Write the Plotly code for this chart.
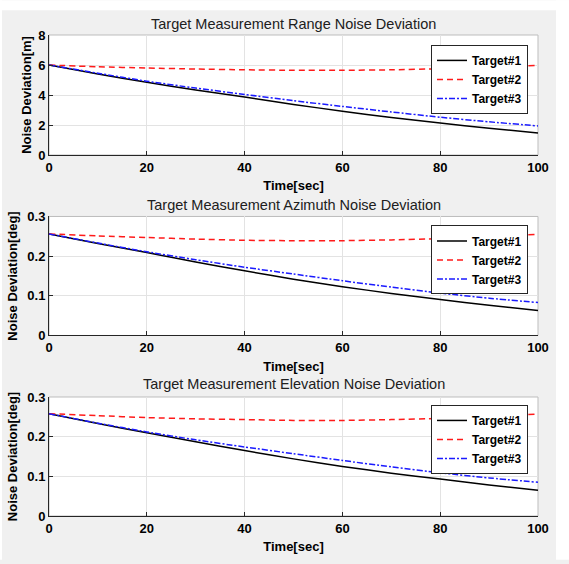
import plotly.graph_objects as go

# ---------------- data ----------------
time_sec = [0, 10, 20, 30, 40, 50, 60, 70, 80, 90, 100]

range_t1 = [6.0, 5.40, 4.85, 4.33, 3.86, 3.37, 2.92, 2.50, 2.13, 1.78, 1.47]
range_t2 = [6.0, 5.88, 5.80, 5.73, 5.68, 5.65, 5.65, 5.68, 5.75, 5.85, 5.98]
range_t3 = [6.0, 5.45, 4.92, 4.46, 4.04, 3.62, 3.24, 2.87, 2.52, 2.21, 1.94]

azim_t1 = [0.256, 0.232, 0.209, 0.185, 0.163, 0.142, 0.123, 0.106, 0.091, 0.076, 0.063]
azim_t2 = [0.256, 0.251, 0.247, 0.243, 0.240, 0.239, 0.239, 0.241, 0.244, 0.249, 0.255]
azim_t3 = [0.256, 0.233, 0.211, 0.191, 0.172, 0.155, 0.138, 0.122, 0.107, 0.094, 0.083]

elev_t1 = [0.258, 0.233, 0.210, 0.187, 0.165, 0.144, 0.125, 0.108, 0.093, 0.078, 0.065]
elev_t2 = [0.258, 0.253, 0.248, 0.245, 0.243, 0.241, 0.241, 0.243, 0.246, 0.251, 0.257]
elev_t3 = [0.258, 0.234, 0.212, 0.192, 0.174, 0.157, 0.140, 0.124, 0.109, 0.096, 0.085]

series_names = ["Target#1", "Target#2", "Target#3"]
panel_titles = ["Target Measurement Range Noise Deviation",
                "Target Measurement Azimuth Noise Deviation",
                "Target Measurement Elevation Noise Deviation"]
y_titles = ["Noise Deviation[m]", "Noise Deviation[deg]", "Noise Deviation[deg]"]
x_title = "Time[sec]"
x_ticks = [0, 20, 40, 60, 80, 100]
y_ticks = [[0, 2, 4, 6, 8], [0, 0.1, 0.2, 0.3], [0, 0.1, 0.2, 0.3]]
y_tick_text = [["0", "2", "4", "6", "8"], ["0", "0.1", "0.2", "0.3"], ["0", "0.1", "0.2", "0.3"]]
y_ranges = [[0, 8], [0, 0.3], [0, 0.3]]

panels = [(range_t1, range_t2, range_t3),
          (azim_t1, azim_t2, azim_t3),
          (elev_t1, elev_t2, elev_t3)]

# ---------------- styling ----------------
W, H = 569, 564
ML, MR, MT, MB = 49, 31, 35, 44
FONT = "Liberation Sans, Arial, sans-serif"
line_styles = [dict(color="black", width=1.5, dash="solid"),
               dict(color="#ff1a1a", width=1.5, dash="6px,4px"),
               dict(color="#1a1aff", width=1.5, dash="6px,2px,2px,2px")]

y_domains = [[0.7505, 1.0], [0.3753, 0.6227], [0.0, 0.2474]]
title_y = [1.0227, 0.6474, 0.2742]
legend_y = [0.9794, 0.604, 0.2309]
y_standoff = [3, 6, 6]

fig = go.Figure()
legend_ids = ["legend", "legend2", "legend3"]

for p in range(3):
    xa = "x" if p == 0 else f"x{p+1}"
    ya = "y" if p == 0 else f"y{p+1}"
    for s in range(3):
        fig.add_trace(go.Scatter(
            x=time_sec, y=panels[p][s], mode="lines", name=series_names[s],
            line=dict(shape="spline", smoothing=0.6, **line_styles[s]),
            xaxis=xa, yaxis=ya, legend=legend_ids[p], showlegend=True))

tick_font = dict(family=FONT, size=13, color="black", weight="bold")
axis_title_font = dict(family=FONT, size=13, color="black", weight="bold")

layout = dict(
    width=W, height=H,
    margin=dict(l=ML, r=MR, t=MT, b=MB),
    paper_bgcolor="#f0f0f0", plot_bgcolor="white",
    showlegend=True,
    shapes=[],
    annotations=[],
)

for p in range(3):
    xk = "xaxis" if p == 0 else f"xaxis{p+1}"
    yk = "yaxis" if p == 0 else f"yaxis{p+1}"
    ya = "y" if p == 0 else f"y{p+1}"
    xa = "x" if p == 0 else f"x{p+1}"
    layout[xk] = dict(
        domain=[0, 1], anchor=ya, range=[0, 100], tickvals=x_ticks,
        ticks="inside", ticklen=4, tickcolor="#262626", showline=True,
        linecolor="#262626", linewidth=1, showgrid=True, gridcolor="#e3e3e3",
        gridwidth=1, zeroline=False, tickfont=tick_font,
        title=dict(text=x_title, font=axis_title_font, standoff=7),
    )
    layout[yk] = dict(
        domain=y_domains[p], anchor=xa, range=y_ranges[p], tickvals=y_ticks[p],
        ticktext=y_tick_text[p], ticks="inside", ticklen=4, tickcolor="#262626",
        showline=True, linecolor="#262626", linewidth=1, showgrid=True,
        gridcolor="#e3e3e3", gridwidth=1, zeroline=False, tickfont=tick_font,
        title=dict(text=y_titles[p], font=axis_title_font, standoff=y_standoff[p]),
    )
    # light box on top / right
    layout["shapes"].append(dict(
        type="rect", xref=f"{xa} domain", yref=f"{ya} domain",
        x0=0, x1=1, y0=0, y1=1, line=dict(color="#bdbdbd", width=1),
        layer="below"))
    layout["annotations"].append(dict(
        text=panel_titles[p], xref="paper", yref="paper", x=0.5, y=title_y[p],
        xanchor="center", yanchor="middle", showarrow=False,
        font=dict(family=FONT, size=14.5, color="#202020")))
    lk = legend_ids[p]
    layout[lk] = dict(
        x=(528 - ML) / (W - ML - MR), xanchor="right", y=legend_y[p], yanchor="top",
        bgcolor="white", bordercolor="#262626", borderwidth=1,
        font=dict(family=FONT, size=12, color="black", weight="bold"),
        tracegroupgap=0, itemwidth=30)

# white strips at the figure edges (outside the grey panel)
pw = W - ML - MR
ph = H - MT - MB
def px_x(v):
    return (v - ML) / pw
def px_y(v):
    return (H - MB - v) / ph

layout["shapes"].append(dict(type="rect", xref="paper", yref="paper",
                             x0=px_x(0), x1=px_x(W), y0=px_y(10), y1=px_y(0),
                             fillcolor="white", line=dict(width=0), layer="below"))
layout["shapes"].append(dict(type="rect", xref="paper", yref="paper",
                             x0=px_x(556), x1=px_x(W), y0=px_y(H), y1=px_y(0),
                             fillcolor="white", line=dict(width=0), layer="below"))
layout["shapes"].append(dict(type="rect", xref="paper", yref="paper",
                             x0=px_x(0), x1=px_x(2), y0=px_y(H), y1=px_y(0),
                             fillcolor="white", line=dict(width=0), layer="below"))

fig.update_layout(**layout)
fig.write_html("out.html",
               config={"displayModeBar": False},
               post_script="document.body.style.margin='0';document.body.style.overflow='hidden';")
